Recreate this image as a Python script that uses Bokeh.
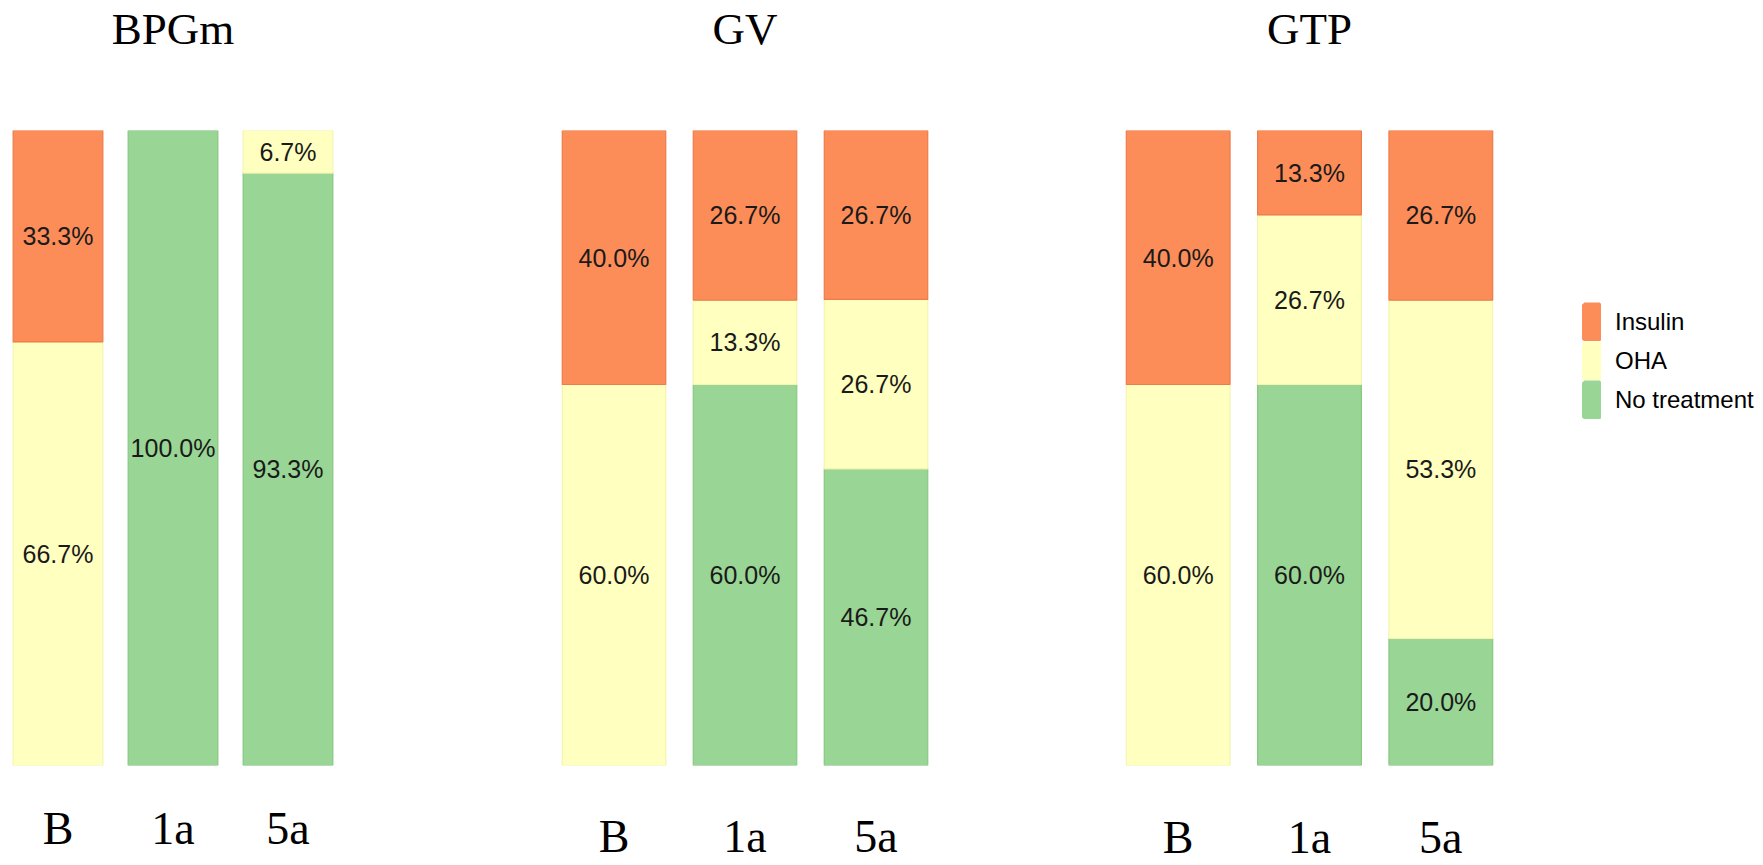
from bokeh.plotting import figure
from bokeh.layouts import row
from bokeh.models import FactorRange, Range1d, ColumnDataSource, Legend, LegendItem, Title
from bokeh.core.properties import value
from bokeh.embed import file_html
from bokeh.resources import INLINE

# ---- data (percent of patients per treatment) ----
categories = ["B", "1a", "5a"]
panels = ["BPGm", "GV", "GTP"]
series = ["Insulin", "OHA", "No treatment"]

insulin_bpgm = [33.3, 0.0, 0.0]
oha_bpgm = [66.7, 0.0, 6.7]
none_bpgm = [0.0, 100.0, 93.3]

insulin_gv = [40.0, 26.7, 26.7]
oha_gv = [60.0, 13.3, 26.7]
none_gv = [0.0, 60.0, 46.7]

insulin_gtp = [40.0, 13.3, 26.7]
oha_gtp = [60.0, 26.7, 53.3]
none_gtp = [0.0, 60.0, 20.0]

# ---- styling ----
COLORS = {"Insulin": "#fc8d59", "OHA": "#ffffbf", "No treatment": "#99d594"}
EDGES = {"Insulin": "#ec7c4a", "OHA": "#f4f4b0", "No treatment": "#88c883"}
H = 865
FRAME_TOP = 130
FRAME_BOTTOM = 765


def segments(ins, oha, non):
    """Stack No treatment at the bottom, then OHA, then Insulin."""
    rows = dict(cat=[], series=[], bottom=[], top=[], mid=[], fill=[], edge=[], label=[])
    for i, cat in enumerate(categories):
        base = 0.0
        for name, vals in (("No treatment", non), ("OHA", oha), ("Insulin", ins)):
            v = vals[i]
            if v <= 0:
                continue
            rows["cat"].append(cat)
            rows["series"].append(name)
            rows["bottom"].append(base)
            rows["top"].append(base + v)
            rows["mid"].append(base + v / 2)
            rows["fill"].append(COLORS[name])
            rows["edge"].append(EDGES[name])
            rows["label"].append(f"{v:.1f}%")
            base += v
    return ColumnDataSource(rows)


def base_figure(width, frame_w, **kw):
    p = figure(
        width=width, height=H, output_backend="svg", toolbar_location=None,
        min_border_left=0, min_border_right=width - frame_w,
        min_border_top=FRAME_TOP, min_border_bottom=H - FRAME_BOTTOM, **kw,
    )
    p.xgrid.visible = False
    p.ygrid.visible = False
    p.outline_line_color = None
    p.background_fill_color = "white"
    return p


def make_panel(title, ins, oha, non, width, frame_w, bar_w, label_standoff):
    p = base_figure(width, frame_w, x_range=FactorRange(*categories),
                    y_range=Range1d(0, 100), y_axis_location=None)
    src = segments(ins, oha, non)
    p.vbar(x="cat", bottom="bottom", top="top", width=bar_w, source=src,
           fill_color="fill", line_color="edge", line_width=1.2)
    p.text(x="cat", y="mid", text="label", source=src,
           text_align="center", text_baseline="middle",
           text_font=value("Liberation Sans"), text_font_size="25px",
           text_color="#1a1a1a")

    # blank spacer keeps the heading well above the bars
    p.add_layout(Title(text=" ", text_font_size="1px", standoff=74), "above")
    p.add_layout(Title(text=title, align="center", text_font="Liberation Serif",
                       text_font_size="45px", text_font_style="normal",
                       text_color="black", standoff=0), "above")

    ax = p.xaxis[0]
    ax.axis_line_color = None
    ax.major_tick_line_color = None
    ax.minor_tick_line_color = None
    ax.major_tick_out = 0
    ax.major_tick_in = 0
    ax.major_label_text_font = "Liberation Serif"
    ax.major_label_text_font_size = "46px"
    ax.major_label_text_color = "black"
    ax.major_label_standoff = label_standoff
    return p


p1 = make_panel("BPGm", insulin_bpgm, oha_bpgm, none_bpgm,
                width=548, frame_w=345, bar_w=0.78, label_standoff=37)
p2 = make_panel("GV", insulin_gv, oha_gv, none_gv,
                width=564, frame_w=393, bar_w=0.79, label_standoff=45)
p3 = make_panel("GTP", insulin_gtp, oha_gtp, none_gtp,
                width=428, frame_w=394, bar_w=0.79, label_standoff=46)

# ---- legend panel ----
pl = base_figure(223, 223, x_range=FactorRange(*series), y_range=Range1d(0, 1),
                 x_axis_location=None, y_axis_location=None)
swatch_src = ColumnDataSource(dict(series=series, fill=[COLORS[s] for s in series]))
# hidden swatch renderer: flat-coloured, wide edge so legend swatches touch
swatch = pl.vbar(x="series", top=0, width=0.5, source=swatch_src,
                 fill_color="fill", line_color="fill", line_width=8, visible=False)
items = [LegendItem(label=name, renderers=[swatch], index=i) for i, name in enumerate(series)]
legend = Legend(items=items, location=(42, 346), glyph_width=19, glyph_height=39,
                spacing=0, padding=0, margin=0, label_standoff=14,
                label_text_font="Liberation Sans", label_text_font_size="24px",
                label_text_color="black", border_line_color=None,
                background_fill_alpha=0, click_policy="none")
pl.add_layout(legend)

layout = row(p1, p2, p3, pl, spacing=0)
open("out.html", "w").write(file_html(layout, INLINE))
